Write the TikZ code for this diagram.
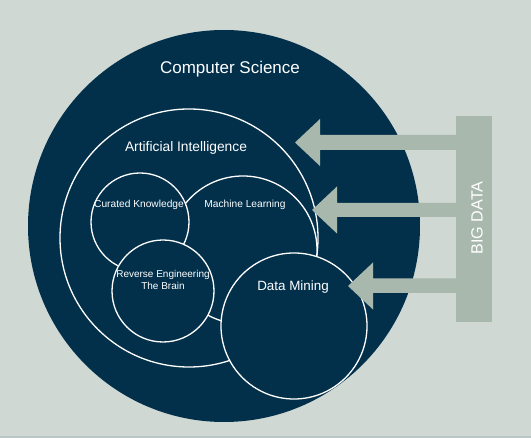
\documentclass[tikz,border=0pt]{standalone}
\usepackage{fontspec}
\setmainfont{Liberation Sans}
\definecolor{bg}{RGB}{207,216,211}
\definecolor{navy}{RGB}{2,48,75}
\definecolor{sage}{RGB}{168,184,173}
\definecolor{edge}{RGB}{185,198,200}
\begin{document}
\begin{tikzpicture}[x=1pt,y=-1pt,
  circ/.style={circle,draw=white,fill=navy,line width=1.3pt,inner sep=0pt,outer sep=0pt},
  lbl/.style={text=white,inner sep=0pt,align=center},
  bigarrow/.style={fill=sage}
]
\fill[bg] (0,0) rectangle (531,438);
\fill[edge] (0,436) rectangle (531,438);
\useasboundingbox (0,0) rectangle (531,438);
% Computer Science
\node[circle,fill=navy,minimum size=392pt,inner sep=0pt] (cs) at (224,226) {};
% inner circles
\node[circ,minimum size=258pt] (ai) at (189,238) {};
\node[circ,minimum size=148pt] (ml) at (243,250) {};
\node[circ,minimum size=98pt] (ck) at (140,222) {};
\node[circ,minimum size=102pt] (re) at (163,291) {};
\node[circ,minimum size=146pt] (dm) at (294,326) {};
% Big data bar
\node[fill=sage,minimum width=36pt,minimum height=206pt,inner sep=0pt] (bd) at (474,219) {};
% arrows
\fill[bigarrow] (bd.west |- 0,135) -- (320,135) -- (320,119) -- (295,142.5) -- (320,166) -- (320,150) -- (bd.west |- 0,150) -- cycle;
\fill[bigarrow] (bd.west |- 0,203) -- (337,203) -- (337,186.5) -- (312,210) -- (337,233.5) -- (337,217) -- (bd.west |- 0,217) -- cycle;
\fill[bigarrow] (bd.west |- 0,278.5) -- (373,278.5) -- (373,262.5) -- (348,286) -- (373,309.5) -- (373,293) -- (bd.west |- 0,293) -- cycle;
% labels
\node[lbl,font=\fontsize{17}{20}\selectfont] (tcs) at (230,69) {Computer Science};
\node[lbl,font=\fontsize{13.8}{16}\selectfont] (tai) at (186,148) {Artificial Intelligence};
\node[lbl,font=\fontsize{10.2}{12}\selectfont] (tck) at (139,205) {Curated Knowledge};
\node[lbl,font=\fontsize{10.2}{12}\selectfont] (tml) at (245,205) {Machine Learning};
\node[lbl,font=\fontsize{10}{12}\selectfont] (tre) at (163,280) {Reverse Engineering\\The Brain};
\node[lbl,font=\fontsize{13.4}{16}\selectfont] (tdm) at (293,287) {Data Mining};
\node[lbl,font=\fontsize{16.2}{19}\selectfont,rotate=90] (tbd) at (477,218) {BIG DATA};
\end{tikzpicture}
\end{document}
